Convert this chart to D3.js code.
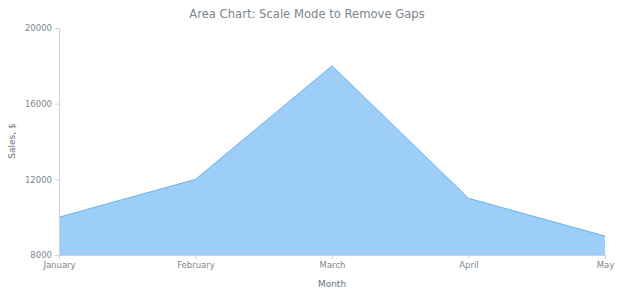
<!DOCTYPE html>
<html>
<head>
<meta charset="utf-8">
<script src="https://cdn.jsdelivr.net/npm/d3@7"></script>
<style>
  body { margin: 0; background: #fff; }
  svg text { font-family: "DejaVu Sans", Verdana, sans-serif; }
</style>
</head>
<body>
<svg id="chart" width="620" height="300"></svg>
<script>
// Data
var months = ["January", "February", "March", "April", "May"];
var sales = [10000, 12000, 18000, 11000, 9000];
var yTicks = [8000, 12000, 16000, 20000];

var svg = d3.select("#chart"),
    plotLeft = 59, plotRight = 605, plotTop = 28, plotBottom = 255;

var x = d3.scalePoint().domain(months).range([plotLeft, plotRight]);
var y = d3.scaleLinear().domain([8000, 20000]).range([plotBottom, plotTop]);

var data = months.map(function(m, i) { return { month: m, value: sales[i] }; });

// Titel
svg.append("text")
    .attr("x", 307).attr("y", 18)
    .attr("text-anchor", "middle")
    .style("font-size", "11.6px")
    .attr("fill", "#7c868e")
    .text("Area Chart: Scale Mode to Remove Gaps");

// Area
var area = d3.area()
    .x(function(d) { return x(d.month); })
    .y0(plotBottom)
    .y1(function(d) { return y(d.value); });

svg.append("path")
    .datum(data)
    .attr("d", area)
    .attr("fill", "#9ccef8");

var line = d3.line()
    .x(function(d) { return x(d.month); })
    .y(function(d) { return y(d.value); });

svg.append("path")
    .datum(data)
    .attr("d", line)
    .attr("fill", "none")
    .attr("stroke", "#64b5f6")
    .attr("stroke-width", 1);

// Y akse
var yAxis = svg.append("g")
    .attr("transform", "translate(" + plotLeft + ",0)")
    .call(d3.axisLeft(y).tickValues(yTicks).tickSize(4).tickPadding(3).tickFormat(d3.format("d")));
yAxis.select(".domain").attr("stroke", "#cfd3d6");
yAxis.selectAll(".tick line").attr("stroke", "#cfd3d6");
yAxis.selectAll(".tick text").attr("fill", "#7c868e").style("font-size", "8.5px");

// X akse
var xAxis = svg.append("g")
    .attr("transform", "translate(0," + plotBottom + ")")
    .call(d3.axisBottom(x).tickSize(4).tickPadding(3));
xAxis.select(".domain").attr("stroke", "#cfd3d6");
xAxis.selectAll(".tick line").attr("stroke", "#cfd3d6");
xAxis.selectAll(".tick text").attr("fill", "#7c868e").style("font-size", "8.5px");

// Akse titler
svg.append("text")
    .attr("x", 332).attr("y", 287)
    .attr("text-anchor", "middle")
    .style("font-size", "9px")
    .attr("fill", "#6b747b")
    .text("Month");

svg.append("text")
    .attr("transform", "translate(15,141) rotate(-90)")
    .attr("text-anchor", "middle")
    .style("font-size", "9px")
    .attr("fill", "#6b747b")
    .text("Sales, $");
</script>
</body>
</html>
